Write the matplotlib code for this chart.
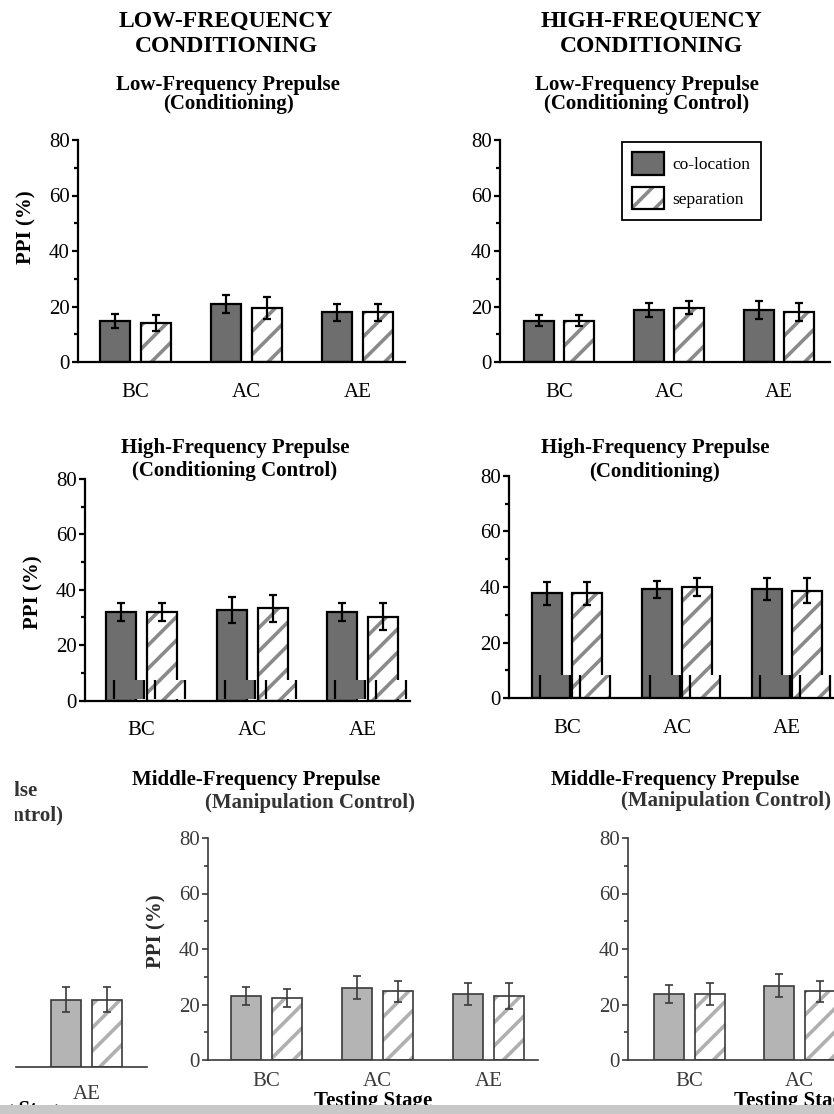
import matplotlib.pyplot as plt
from matplotlib.patches import Patch, Rectangle
import numpy as np

W, H = 834, 1114
DPI = 140
S = 100 / DPI  # sizes below are written as points at 100 dpi

plt.rcParams['font.family'] = ['Liberation Serif', 'DejaVu Serif']
plt.rcParams['hatch.linewidth'] = 2.6 * S

stages = ['BC', 'AC', 'AE']
series_names = ['co-location', 'separation']

# low-frequency conditioning group, low-frequency prepulse (conditioning)
lf_cond_co = [14.8, 20.9, 17.9]
lf_cond_co_err = [2.4, 3.3, 3.1]
lf_cond_sep = [14.1, 19.5, 17.9]
lf_cond_sep_err = [3.0, 4.0, 3.1]

# high-frequency conditioning group, low-frequency prepulse (conditioning control)
lf_ctrl_co = [14.8, 18.7, 18.7]
lf_ctrl_co_err = [2.0, 2.4, 3.2]
lf_ctrl_sep = [14.8, 19.6, 17.9]
lf_ctrl_sep_err = [2.0, 2.3, 3.2]

# low-frequency conditioning group, high-frequency prepulse (conditioning control)
hf_ctrl_co = [31.9, 32.7, 31.9]
hf_ctrl_co_err = [3.2, 4.6, 3.2]
hf_ctrl_sep = [31.9, 33.3, 30.3]
hf_ctrl_sep_err = [3.2, 4.8, 4.8]

# high-frequency conditioning group, high-frequency prepulse (conditioning)
hf_cond_co = [37.7, 39.2, 39.2]
hf_cond_co_err = [4.0, 3.1, 3.9]
hf_cond_sep = [37.7, 39.9, 38.6]
hf_cond_sep_err = [4.0, 3.2, 4.5]

# middle-frequency prepulse (manipulation control), low-frequency group
mf_low_co = [23.1, 26.1, 23.8]
mf_low_co_err = [3.1, 4.0, 3.9]
mf_low_sep = [22.3, 24.7, 23.1]
mf_low_sep_err = [3.2, 3.9, 4.6]

# middle-frequency prepulse (manipulation control), high-frequency group
mf_high_co = [23.8, 26.8, 24.3]
mf_high_co_err = [3.3, 4.1, 4.4]
mf_high_sep = [23.8, 24.7, 24.3]
mf_high_sep_err = [3.9, 3.9, 4.4]

DARK = dict(fill='#6e6e6e', edge='black', hatch='#8a8a8a', lw=1.6 * S, tick='black')
LIGHT = dict(fill='#b4b4b4', edge='#3a3a3a', hatch='#b0b0b0', lw=1.2 * S, tick='#3a3a3a')

WIDTH = 0.273
OFF = 0.186
HATCH = '//'

fig = plt.figure(figsize=(W / DPI, H / DPI), dpi=DPI)


def px_text(x, y, s, **kw):
    kw.setdefault('ha', 'center')
    kw.setdefault('va', 'center')
    fig.text(x / W, 1 - y / H, s, **kw)


def make_axes(left, right, y0, ytop, c0, step, ylim=(0, 80)):
    # pixel box measured from the top-left corner, c0 = pixel centre of the first group
    ax = fig.add_axes([left / W, 1 - y0 / H, (right - left) / W, (y0 - ytop) / H])
    ax.set_xlim((left - c0) / step, (right - c0) / step)
    ax.set_ylim(*ylim)
    ax.patch.set_alpha(0)
    return ax


def draw_bars(ax, co, co_err, sep, sep_err, st):
    x = np.arange(len(co))
    ax.bar(x - OFF, co, WIDTH, color=st['fill'], edgecolor=st['edge'], linewidth=st['lw'], zorder=2)
    ax.bar(x + OFF, sep, WIDTH, color='white', edgecolor=st['hatch'], hatch=HATCH, linewidth=0, zorder=2)
    ax.bar(x + OFF, sep, WIDTH, color='none', edgecolor=st['edge'], linewidth=st['lw'], zorder=3)
    for xs, ys, es in [(x - OFF, co, co_err), (x + OFF, sep, sep_err)]:
        ax.errorbar(xs, ys, yerr=es, fmt='none', ecolor=st['edge'], elinewidth=st['lw'],
                    capsize=3 * S, capthick=st['lw'], zorder=4)


def style_axes(ax, st, xpad, size=15):
    xlim = ax.get_xlim()
    for s in ['top', 'right']:
        ax.spines[s].set_visible(False)
    for s in ['left', 'bottom']:
        ax.spines[s].set_linewidth(st['lw'])
        ax.spines[s].set_color(st['edge'])
    ax.set_yticks([0, 20, 40, 60, 80])
    ax.set_yticks([10, 30, 50, 70], minor=True)
    ax.tick_params(axis='y', which='major', length=4 * S, width=st['lw'], pad=2 * S,
                   labelsize=size * S, color=st['edge'], labelcolor=st['tick'])
    ax.tick_params(axis='y', which='minor', length=3 * S, width=st['lw'], color=st['edge'])
    ax.set_xticks(range(len(stages)))
    ax.set_xticklabels(stages)
    ax.set_xlim(xlim)  # set_xticks widens the view to hold every tick
    ax.tick_params(axis='x', length=0, pad=xpad * S, labelsize=size * S, labelcolor=st['tick'])


def band(left, right, ybot, ytop, y0, ytop80, c0, step, co, sep, st):
    # strip near the baseline where the bar bottoms sit shifted sideways
    scale = (y0 - ytop80) / 80
    ax = make_axes(left, right, ybot, ytop, c0, step,
                   ylim=((y0 - ybot) / scale, (y0 - ytop) / scale))
    ax.patch.set_alpha(1)
    ax.patch.set_facecolor('white')
    ax.set_zorder(5)
    x = np.arange(len(co))
    ax.bar(x - OFF, co, WIDTH, color=st['fill'], edgecolor=st['edge'], linewidth=st['lw'])
    ax.bar(x + OFF, sep, WIDTH, color='white', edgecolor=st['hatch'], hatch=HATCH, linewidth=0)
    ax.bar(x + OFF, sep, WIDTH, color='none', edgecolor=st['edge'], linewidth=st['lw'])
    ax.axis('off')


# top row
ax = make_axes(78, 405, 362, 140, 135.5, 111)
draw_bars(ax, lf_cond_co, lf_cond_co_err, lf_cond_sep, lf_cond_sep_err, DARK)
style_axes(ax, DARK, 15)

ax = make_axes(500, 830, 362, 140, 559, 110)
draw_bars(ax, lf_ctrl_co, lf_ctrl_co_err, lf_ctrl_sep, lf_ctrl_sep_err, DARK)
style_axes(ax, DARK, 15)

co_patch = Patch(facecolor=DARK['fill'], edgecolor='black', linewidth=DARK['lw'])
sep_patch = (Patch(facecolor='white', edgecolor=DARK['hatch'], hatch=HATCH, linewidth=0),
             Patch(facecolor='none', edgecolor='black', linewidth=DARK['lw']))
leg = fig.legend([co_patch, sep_patch], series_names, loc='upper left',
                 bbox_to_anchor=(622 / W, 1 - 142 / H), fontsize=12.5 * S, frameon=True,
                 fancybox=False, edgecolor='black', framealpha=1, handlelength=1.8,
                 handleheight=1.6, labelspacing=0.7, borderpad=0.6, handletextpad=0.5,
                 borderaxespad=0)
leg.get_frame().set_linewidth(1.3 * S)

# middle row
ax = make_axes(85, 410, 700.5, 479, 141.75, 110.5)
draw_bars(ax, hf_ctrl_co, hf_ctrl_co_err, hf_ctrl_sep, hf_ctrl_sep_err, DARK)
style_axes(ax, DARK, 15)
band(88, 410, 699, 680, 700.5, 479, 149.75, 110.5, hf_ctrl_co, hf_ctrl_sep, DARK)

ax = make_axes(509, 833, 698.3, 475.7, 567, 110)
draw_bars(ax, hf_cond_co, hf_cond_co_err, hf_cond_sep, hf_cond_sep_err, DARK)
style_axes(ax, DARK, 15)
band(512, 834, 697, 675, 698.3, 475.7, 575, 110, hf_cond_co, hf_cond_sep, DARK)

# bottom row
ax = make_axes(208, 538, 1060, 838, 266.5, 111)
draw_bars(ax, mf_low_co, mf_low_co_err, mf_low_sep, mf_low_sep_err, LIGHT)
style_axes(ax, LIGHT, 9)

ax = make_axes(628, 960, 1060, 838, 689.5, 110)
draw_bars(ax, mf_high_co, mf_high_co_err, mf_high_sep, mf_high_sep_err, LIGHT)
style_axes(ax, LIGHT, 9)

# the same panel carries on at the left edge, only its AE group in view
ax = make_axes(16, 147, 1067, 845, 86.5 - 220, 110)
draw_bars(ax, mf_high_co, mf_high_co_err, mf_high_sep, mf_high_sep_err, LIGHT)
style_axes(ax, LIGHT, 13)
ax.spines['left'].set_visible(False)
ax.tick_params(axis='y', which='both', left=False, labelleft=False)

# headings and titles
head = dict(fontsize=17 * S, fontweight='bold')
sub = dict(fontsize=15 * S, fontweight='bold')
px_text(226, 21, 'LOW-FREQUENCY', **head)
px_text(226, 47, 'CONDITIONING', **head)
px_text(651, 21, 'HIGH-FREQUENCY', **head)
px_text(651, 47, 'CONDITIONING', **head)

px_text(228, 85, 'Low-Frequency Prepulse', **sub)
px_text(228, 104, '(Conditioning)', **sub)
px_text(647, 85, 'Low-Frequency Prepulse', **sub)
px_text(647, 104, '(Conditioning Control)', **sub)

px_text(235, 448, 'High-Frequency Prepulse', **sub)
px_text(235, 471, '(Conditioning Control)', **sub)
px_text(655, 448, 'High-Frequency Prepulse', **sub)
px_text(655, 472, '(Conditioning)', **sub)

px_text(132, 780, 'Middle-Frequency Prepulse', ha='left', **sub)
px_text(205, 803, '(Manipulation Control)', ha='left', color='#333333', **sub)
px_text(551, 780, 'Middle-Frequency Prepulse', ha='left', **sub)
px_text(621, 801, '(Manipulation Control)', ha='left', color='#333333', **sub)
px_text(37, 791, 'Middle-Frequency Prepulse', ha='right', color='#333333', **sub)
px_text(63, 816, '(Manipulation Control)', ha='right', color='#333333', **sub)

ylab = dict(fontsize=15 * S, fontweight='bold', rotation=90)
px_text(26, 227, 'PPI (%)', **ylab)
px_text(33, 592, 'PPI (%)', **ylab)
px_text(156, 931, 'PPI (%)', color='#2a2a2a', **ylab)

px_text(373, 1101, 'Testing Stage', **sub)
px_text(793, 1101, 'Testing Stage', **sub)
px_text(67, 1110, 'Testing Stage', ha='right', **sub)

# blank margin on the left of the bottom row and grey strip along the bottom edge
fig.patches.append(Rectangle((0, 1 - 1104 / H), 15 / W, 330 / H, transform=fig.transFigure,
                             facecolor='white', edgecolor='none', zorder=10))
fig.patches.append(Rectangle((0, 0), 1, 9 / H, transform=fig.transFigure,
                             facecolor='#c8c8c8', edgecolor='none', zorder=10))

fig.savefig('out.png', dpi=DPI)
